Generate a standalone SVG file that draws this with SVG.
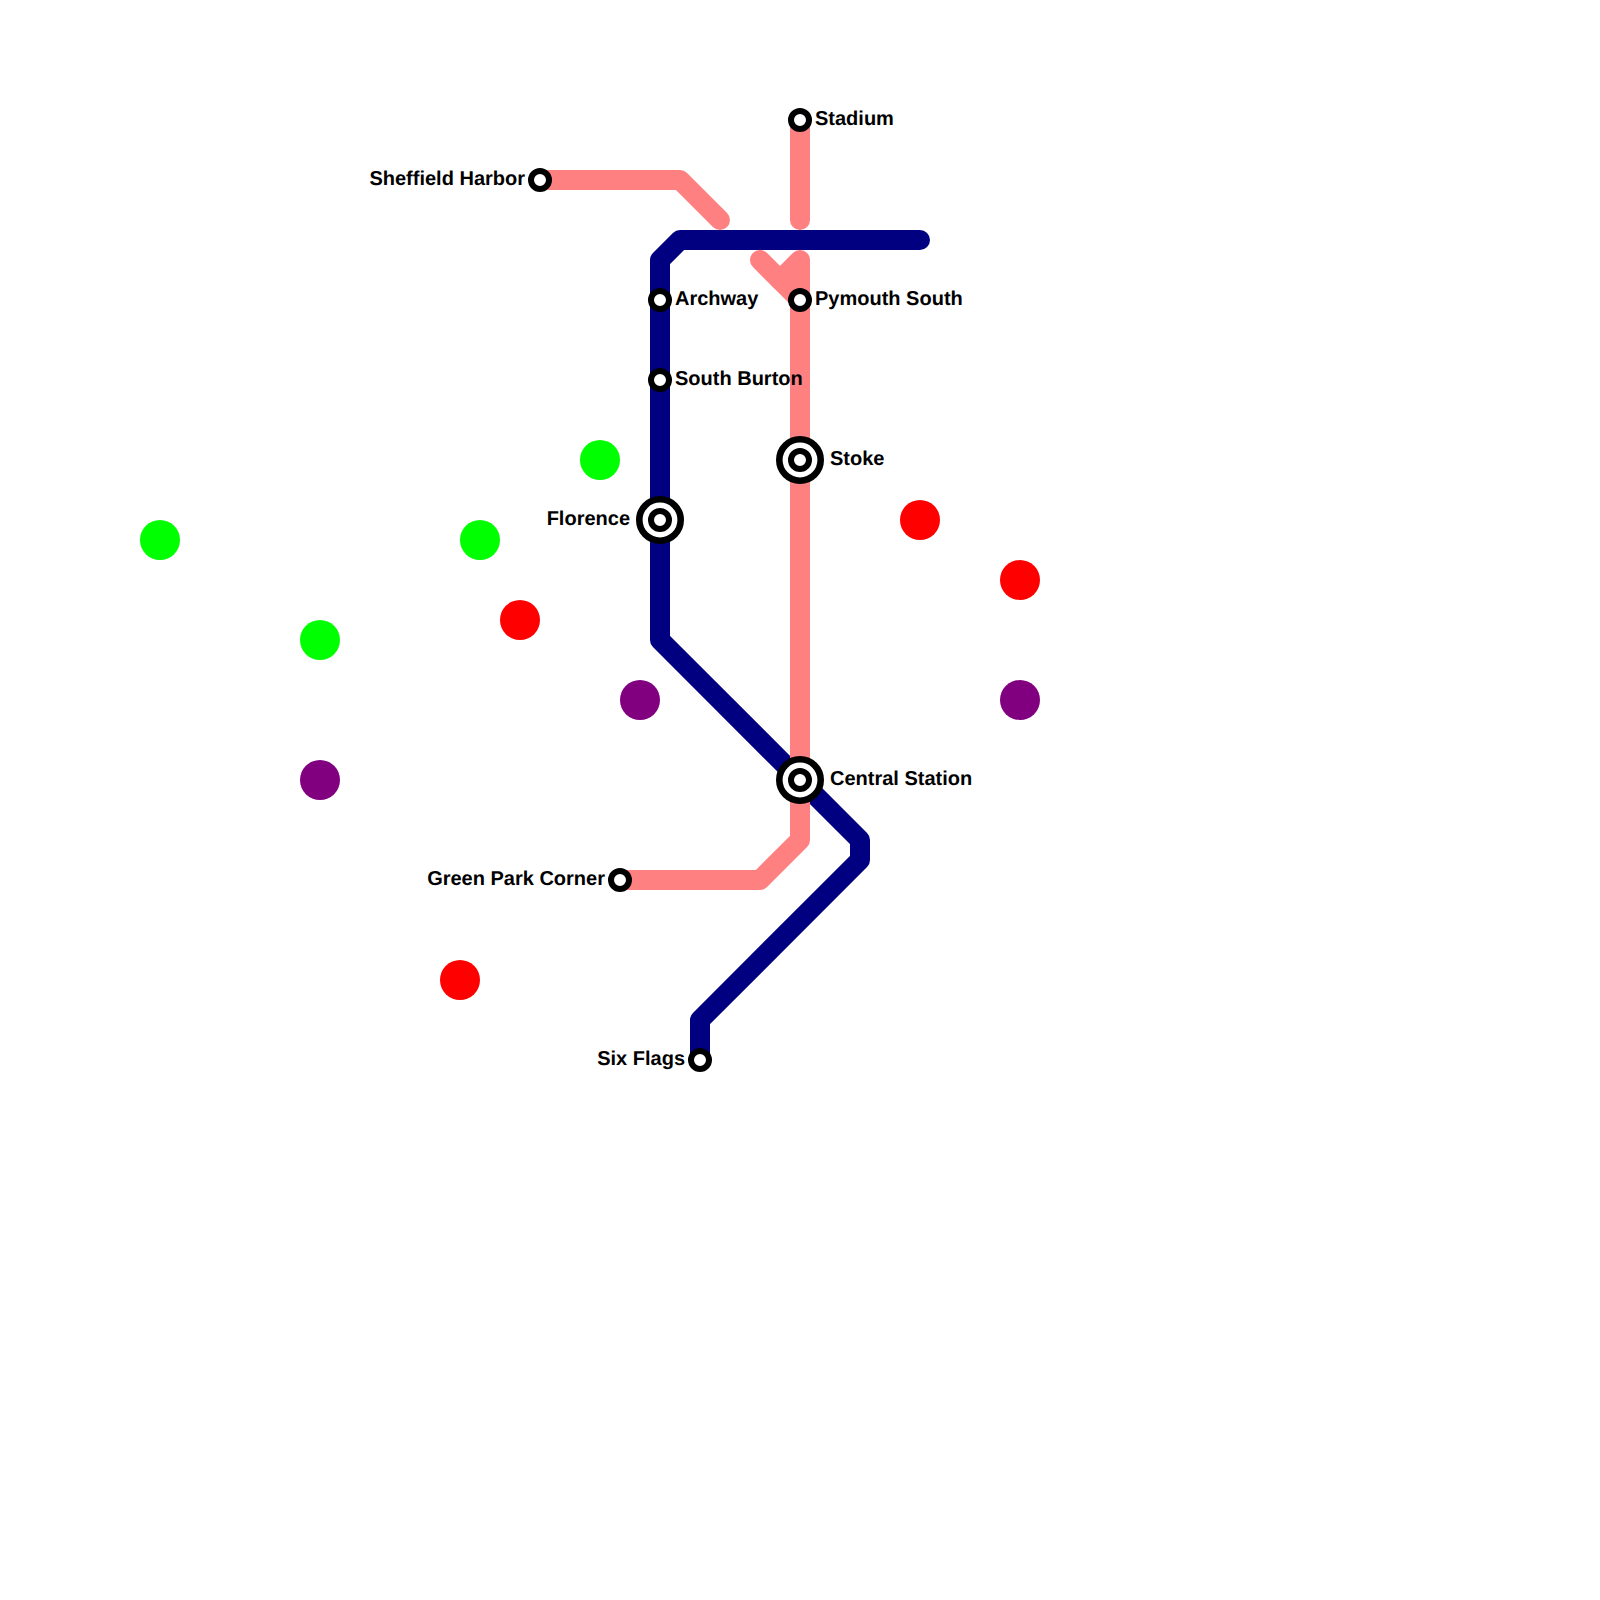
<svg xmlns="http://www.w3.org/2000/svg" width="1600" height="1600" viewBox="0 0 1600 1600">
<style>
.l{fill:none;stroke-width:20;stroke-linecap:round;stroke-linejoin:round}
.p{stroke:#ff8080}
.n{stroke:#000080}
.s{fill:#fff;stroke:#000;stroke-width:6}
.b{fill:#fff;stroke:#000;stroke-width:6.6}
.t{font-family:"Liberation Sans",Arial,sans-serif;font-size:20px;font-weight:bold;fill:#000;text-rendering:geometricPrecision}
.e{text-anchor:end}
.g{fill:#00ff00}.r{fill:#ff0000}.v{fill:#800080}
</style>
<g id="connectors">
<path class="l n" d="M920 240H680L660 260V640L860 840V860L700 1020V1060"/>
<path class="l p" d="M540 180H680L720 220"/>
<path class="l p" d="M800 120V220"/>
<path class="l p" d="M760 260L800 300"/>
<path class="l p" d="M780 280L800 260V840L760 880H620"/>
</g>
<g id="dots">
<circle class="g" cx="600" cy="460" r="20"/>
<circle class="g" cx="160" cy="540" r="20"/>
<circle class="g" cx="480" cy="540" r="20"/>
<circle class="g" cx="320" cy="640" r="20"/>
<circle class="r" cx="920" cy="520" r="20"/>
<circle class="r" cx="1020" cy="580" r="20"/>
<circle class="r" cx="520" cy="620" r="20"/>
<circle class="r" cx="460" cy="980" r="20"/>
<circle class="v" cx="640" cy="700" r="20"/>
<circle class="v" cx="1020" cy="700" r="20"/>
<circle class="v" cx="320" cy="780" r="20"/>
</g>
<g id="stadium"><circle class="s" cx="800" cy="120" r="9"/><text class="t" x="815" y="125">Stadium</text></g>
<g id="sheffield-harbor"><circle class="s" cx="540" cy="180" r="9"/><text class="t e" x="525" y="185">Sheffield Harbor</text></g>
<g id="archway"><circle class="s" cx="660" cy="300" r="9"/><text class="t" x="675" y="305">Archway</text></g>
<g id="pymouth-south"><circle class="s" cx="800" cy="300" r="9"/><text class="t" x="815" y="305">Pymouth South</text></g>
<g id="south-burton"><circle class="s" cx="660" cy="380" r="9"/><text class="t" x="675" y="385">South Burton</text></g>
<g id="stoke"><circle class="b" cx="800" cy="460" r="20.7"/><circle class="s" cx="800" cy="460" r="9"/><text class="t" x="830" y="465">Stoke</text></g>
<g id="florence"><circle class="b" cx="660" cy="520" r="20.7"/><circle class="s" cx="660" cy="520" r="9"/><text class="t e" x="630" y="525">Florence</text></g>
<g id="central-station"><circle class="b" cx="800" cy="780" r="20.7"/><circle class="s" cx="800" cy="780" r="9"/><text class="t" x="830" y="785">Central Station</text></g>
<g id="green-park-corner"><circle class="s" cx="620" cy="880" r="9"/><text class="t e" x="605" y="885">Green Park Corner</text></g>
<g id="six-flags"><circle class="s" cx="700" cy="1060" r="9"/><text class="t e" x="685" y="1065">Six Flags</text></g>
</svg>
